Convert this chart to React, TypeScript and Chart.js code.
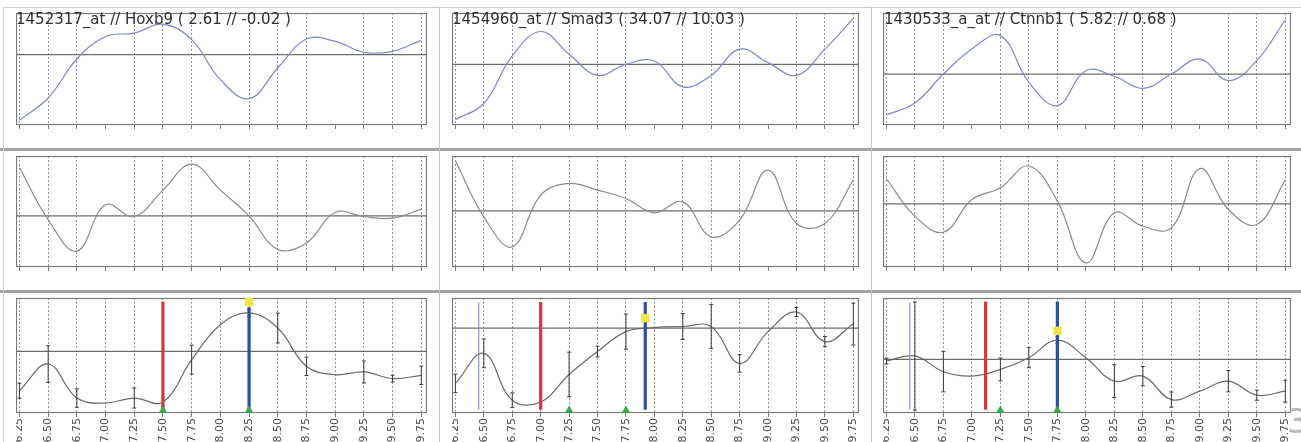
import React, { useEffect, useRef } from "react";
import { Chart, registerables } from "chart.js";

Chart.register(...registerables);

// ---------------- data ----------------
const timePoints = [6.25, 6.5, 6.75, 7.0, 7.25, 7.5, 7.75, 8.0, 8.25, 8.5, 8.75, 9.0, 9.25, 9.5, 9.75];
const tickLabels = ["6.25", "6.50", "6.75", "7.00", "7.25", "7.50", "7.75", "8.00", "8.25", "8.50", "8.75", "9.00", "9.25", "9.50", "9.75"];
const sampledTimes = [6.25, 6.5, 6.75, 7.25, 7.5, 7.75, 8.25, 8.5, 8.75, 9.25, 9.5, 9.75];

const probeTitles = [
  "1452317_at // Hoxb9 ( 2.61 // -0.02 )",
  "1454960_at // Smad3 ( 34.07 // 10.03 )",
  "1430533_a_at // Ctnnb1 ( 5.82 // 0.68 )",
];

// row 1 (blue curves)
const hoxb9Top = [4.2, 24.1, 58.9, 79, 82.1, 90, 76.2, 40.5, 23.5, 50.9, 76.8, 74.7, 64.9, 65.8, 75.6];
const smad3Top = [4.8, 19.2, 61.7, 83.5, 63.2, 44.3, 54.2, 57.2, 34.1, 44.3, 67.7, 55.7, 44.3, 67.7, 95.2];
const ctnnb1Top = [8.9, 19.6, 45.5, 67.9, 79.8, 38.1, 17.3, 48.5, 43.5, 32.7, 45.5, 58.9, 39.6, 57.4, 94];
// row 2 (gray curves)
const hoxb9Mid = [89.6, 42.6, 14.3, 56, 45.5, 69.3, 92.6, 69.3, 46.1, 15.8, 21.7, 49.1, 45.5, 44, 52.1];
const smad3Mid = [95.8, 45.2, 18.1, 64.8, 75.3, 69.3, 61.7, 48.8, 58.7, 27.1, 42.2, 87.3, 39.2, 39.2, 78.3];
const ctnnb1Mid = [79.5, 45.8, 31.3, 60.8, 71.4, 91, 59.3, 3.6, 48.8, 36.7, 35.2, 88.6, 51.8, 38.3, 78.3];
// row 3 (curves with error bars)
const hoxb9Bottom = [19.4, 42.6, 13, 8.7, 13, 9.6, 46.4, 76.8, 87, 73.9, 40.6, 33.3, 35.7, 29.9, 32.8];
const smad3Bottom = [25.7, 51.9, 11.1, 9.6, 33.5, 53.4, 70.8, 74.3, 75.2, 75.2, 43.1, 70.8, 87.8, 62.1, 77.3];
const ctnnb1Bottom = [45.2, 49.6, 35.9, 32.1, 37.9, 48.1, 63.3, 48.1, 27.7, 32.1, 11.7, 19, 27.7, 15.5, 19];

const hoxb9Err = [6.5, 15.9, 8, 8.7, 3.6, 12.6, 3, 13, 8, 9.6, 2.9, 8];
const smad3Err = [8, 12.5, 6.4, 19.4, 4.7, 15.3, 11.2, 19, 7.6, 3.9, 4.4, 18.2];
const ctnnb1Err = [2.6, 47, 17.5, 9.9, 8.7, 3, 14.3, 8.3, 6.6, 9.3, 4.4, 9.5];

const refTop = [62.8, 54.2, 45.5];
const refMid = [46.1, 50.6, 56.9];
const refBottom = [53.6, 73.8, 46.6];

const thinLineTimes = [null, 6.455, 6.455];
const redLineTimes = [7.5, 7.0, 7.12];
const blueLineTimes = [8.25, 7.92, 7.75];
const redLineTops = [97, 96.5, 97];
const blueLineTops = [92, 96.5, 97];
const markerBottom = 2.9;
const yellowValues = [96.5, 82.5, 71.4];
const greenTimes = [[7.5, 8.25], [7.25, 7.75], [7.25, 7.75]];

// ---------------- layout ----------------
const xMin = 6.22;
const xMax = 9.8;
const colLeft = [16, 452, 883];
const colWidth = [411, 407, 408];
const rowTop = [13, 156, 298];
const rowHeight = [112, 111, 115];
const axisH = [6, 6, 40];
const PAD_TOP = 4;

const rowSeries = [
  [hoxb9Top, smad3Top, ctnnb1Top],
  [hoxb9Mid, smad3Mid, ctnnb1Mid],
  [hoxb9Bottom, smad3Bottom, ctnnb1Bottom],
];
const rowRefs = [refTop, refMid, refBottom];
const rowErrs = [hoxb9Err, smad3Err, ctnnb1Err];
const rowColors = ["#7f86ca", "#8e8a8c", "#6a6a6a"];

const boxPlugin = {
  id: "plotBox",
  beforeDatasetsDraw(chart: any) {
    const { ctx, chartArea: a } = chart;
    ctx.save();
    ctx.strokeStyle = "#7a7a7a";
    ctx.lineWidth = 1.2;
    ctx.strokeRect(a.left + 0.5, a.top + 0.5, a.right - a.left - 1, a.bottom - a.top - 1);
    ctx.restore();
  },
};

function buildConfig(row: number, col: number): any {
  const values = rowSeries[row][col];
  const curve = timePoints.map((t, i) => ({ x: t, y: values[i] }));
  const datasets: any[] = [];

  if (row === 2) {
    datasets.push({
      data: greenTimes[col].map((t) => ({ x: t, y: 2.2 })),
      showLine: false,
      pointStyle: "triangle",
      pointRadius: 5,
      pointBackgroundColor: "#3aa845",
      pointBorderColor: "#3aa845",
      pointBorderWidth: 0,
      clip: false,
    });
    datasets.push({
      data: [{ x: blueLineTimes[col], y: yellowValues[col] }],
      showLine: false,
      pointStyle: "rect",
      pointRadius: 6,
      pointBackgroundColor: "#f2e548",
      pointBorderColor: "#f2e548",
      pointBorderWidth: 0,
      clip: false,
    });
    datasets.push({
      data: [
        { x: blueLineTimes[col], y: blueLineTops[col] },
        { x: blueLineTimes[col], y: markerBottom },
      ],
      borderColor: "#2b4ea6",
      borderWidth: 3.2,
      pointRadius: 0,
    });
    datasets.push({
      data: [
        { x: redLineTimes[col], y: redLineTops[col] },
        { x: redLineTimes[col], y: markerBottom },
      ],
      borderColor: "#d5393b",
      borderWidth: 3.2,
      pointRadius: 0,
    });
    const thin = thinLineTimes[col];
    if (thin !== null) {
      datasets.push({
        data: [
          { x: thin, y: 96 },
          { x: thin, y: markerBottom },
        ],
        borderColor: "#8594d8",
        borderWidth: 1.2,
        pointRadius: 0,
      });
    }
    const errs = rowErrs[col];
    const errData: any[] = [];
    sampledTimes.forEach((t, i) => {
      const v = values[timePoints.indexOf(t)];
      errData.push({ x: t, y: v - errs[i] }, { x: t, y: v + errs[i] }, { x: t, y: null });
    });
    datasets.push({
      data: errData,
      borderColor: "#3c3c3c",
      borderWidth: 1,
      pointStyle: "line",
      pointRadius: 2,
      pointBorderColor: "#3c3c3c",
      pointBorderWidth: 1,
      spanGaps: false,
    });
  }

  datasets.push({
    data: curve,
    borderColor: rowColors[row],
    borderWidth: 1.2,
    pointRadius: 0,
    tension: 0.4,
  });
  datasets.push({
    data: [
      { x: xMin, y: rowRefs[row][col] },
      { x: xMax, y: rowRefs[row][col] },
    ],
    borderColor: "#6c6c6c",
    borderWidth: 1.3,
    pointRadius: 0,
  });
  datasets.forEach((d, i) => (d.order = i));

  return {
    type: "line",
    data: { datasets },
    plugins: [boxPlugin],
    options: {
      responsive: false,
      animation: false,
      events: [],
      layout: { padding: { top: PAD_TOP, left: 0, right: 0, bottom: 0 }, autoPadding: false },
      plugins: { legend: { display: false }, tooltip: { enabled: false }, title: { display: false } },
      scales: {
        x: {
          type: "linear",
          min: xMin,
          max: xMax,
          afterBuildTicks: (s: any) => {
            s.ticks = timePoints.map((v) => ({ value: v }));
          },
          afterFit: (s: any) => {
            s.height = axisH[row];
            s.paddingLeft = 0;
            s.paddingRight = 0;
          },
          grid: {
            display: true,
            drawOnChartArea: true,
            drawTicks: true,
            tickLength: 4,
            lineWidth: 1,
            tickWidth: 1,
            tickColor: "#7a7a7a",
            color: (c: any) =>
              row < 2 && c.tick && !sampledTimes.includes(c.tick.value) ? "rgba(0,0,0,0)" : "#9496a4",
          },
          border: { display: false, dash: [2, 2] },
          ticks: {
            display: row === 2,
            autoSkip: false,
            minRotation: 90,
            maxRotation: 90,
            padding: 1,
            color: "#4a4a4a",
            font: { family: "DejaVu Sans", size: 11 },
            callback: (_v: any, i: number) => tickLabels[i],
          },
        },
        y: { display: false, min: 0, max: 100 },
      },
    },
  };
}

function Panel({ row, col }: { row: number; col: number }) {
  const ref = useRef<HTMLCanvasElement>(null);
  const w = colWidth[col];
  const h = rowHeight[row] + PAD_TOP + axisH[row];
  useEffect(() => {
    const chart = new Chart(ref.current as HTMLCanvasElement, buildConfig(row, col));
    return () => chart.destroy();
  }, [row, col]);
  return (
    <canvas
      ref={ref}
      width={w}
      height={h}
      style={{ position: "absolute", left: colLeft[col], top: rowTop[row] - PAD_TOP, width: w, height: h }}
    />
  );
}

export default function App() {
  const panels: any[] = [];
  for (let r = 0; r < 3; r++) for (let c = 0; c < 3; c++) panels.push(<Panel key={`${r}-${c}`} row={r} col={c} />);
  const line = (style: any, key: string) => <div key={key} style={{ position: "absolute", ...style }} />;
  return (
    <div
      style={{
        position: "fixed",
        left: 0,
        top: 0,
        width: 1301,
        height: 442,
        overflow: "hidden",
        background: "#ffffff",
      }}
    >
      {line({ left: 3, top: 7, width: 1298, height: 1, background: "#cfcfcf" }, "h0")}
      {line({ left: 0, top: 148, width: 1301, height: 3, background: "#a3a3a3" }, "h1")}
      {line({ left: 0, top: 290, width: 1301, height: 3, background: "#a3a3a3" }, "h2")}
      {line({ left: 3, top: 7, width: 1, height: 435, background: "#d0d0d0" }, "v0")}
      {line({ left: 439, top: 7, width: 1, height: 435, background: "#c2c4cc" }, "v1")}
      {line({ left: 871, top: 7, width: 1, height: 435, background: "#c2c4cc" }, "v2")}
      {panels}
      {probeTitles.map((t, i) => (
        <div
          key={t}
          style={{
            position: "absolute",
            left: colLeft[i] + (i === 2 ? 1 : 0),
            top: 12,
            font: "15px 'DejaVu Sans'",
            lineHeight: "15px",
            color: "#303030",
            whiteSpace: "nowrap",
          }}
        >
          {t}
        </div>
      ))}
      <div
        style={{
          position: "absolute",
          left: 1287,
          top: 404,
          font: "34px 'DejaVu Sans'",
          lineHeight: "34px",
          color: "#b8b8b8",
        }}
      >
        3
      </div>
    </div>
  );
}
